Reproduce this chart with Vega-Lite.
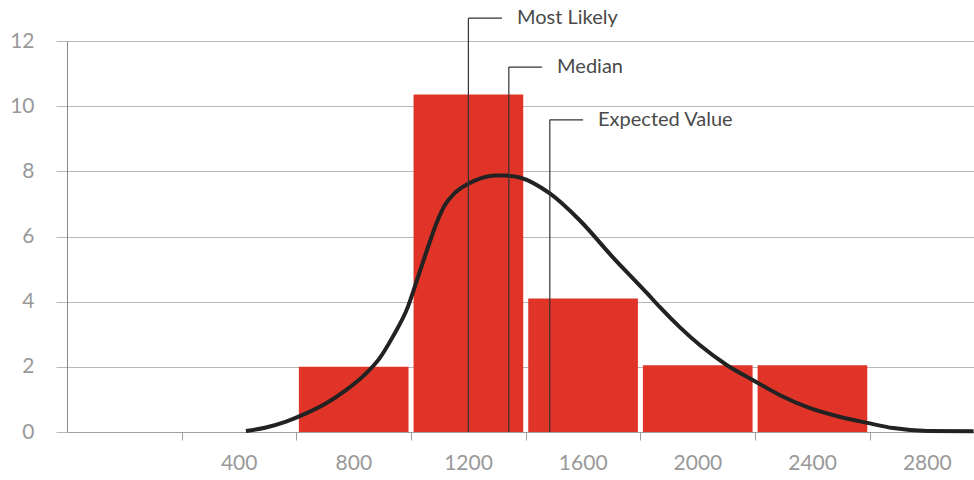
{
  "$schema": "https://vega.github.io/schema/vega-lite/v6.json",
  "autosize": {"type": "fit", "contains": "padding"},
  "width": 974,
  "height": 480,
  "padding": {"left": 9, "top": 2, "right": -8, "bottom": 7},
  "config": {
    "view": {"stroke": null},
    "font": "Lato",
    "axis": {"labelFont": "Lato", "labelColor": "#999999", "labelFontSize": 21, "title": null}
  },
  "datasets": {
    "bins": [
      {"start": 600, "end": 1000, "count": 2.0},
      {"start": 1000, "end": 1400, "count": 10.36},
      {"start": 1400, "end": 1800, "count": 4.1},
      {"start": 1800, "end": 2200, "count": 2.05},
      {"start": 2200, "end": 2600, "count": 2.05}
    ],
    "curve": [
      {"x": 424, "y": 0.03},
      {"x": 494, "y": 0.14},
      {"x": 564, "y": 0.32},
      {"x": 634, "y": 0.57},
      {"x": 704, "y": 0.88},
      {"x": 774, "y": 1.29},
      {"x": 843, "y": 1.8},
      {"x": 890, "y": 2.26},
      {"x": 936, "y": 2.92},
      {"x": 989, "y": 3.84},
      {"x": 1024, "y": 4.75},
      {"x": 1059, "y": 5.67},
      {"x": 1088, "y": 6.39},
      {"x": 1117, "y": 6.95},
      {"x": 1152, "y": 7.33},
      {"x": 1198, "y": 7.61},
      {"x": 1245, "y": 7.79},
      {"x": 1292, "y": 7.87},
      {"x": 1327, "y": 7.87},
      {"x": 1379, "y": 7.81},
      {"x": 1484, "y": 7.32},
      {"x": 1589, "y": 6.49},
      {"x": 1704, "y": 5.36},
      {"x": 1823, "y": 4.26},
      {"x": 1868, "y": 3.83},
      {"x": 1938, "y": 3.21},
      {"x": 2008, "y": 2.66},
      {"x": 2102, "y": 2.05},
      {"x": 2193, "y": 1.59},
      {"x": 2287, "y": 1.13},
      {"x": 2392, "y": 0.73},
      {"x": 2497, "y": 0.46},
      {"x": 2591, "y": 0.28},
      {"x": 2682, "y": 0.12},
      {"x": 2801, "y": 0.03},
      {"x": 2962, "y": 0.02}
    ],
    "notes": [
      {"label": "Most Likely", "x": 1200, "top": 12.7, "legEnd": 1317},
      {"label": "Median", "x": 1341, "top": 11.2, "legEnd": 1457},
      {"label": "Expected Value", "x": 1484, "top": 9.58, "legEnd": 1600}
    ]
  },
  "layer": [
    {
      "data": {"name": "bins"},
      "mark": {"type": "bar", "color": "#e03428", "xOffset": 2.5, "x2Offset": -2.5},
      "encoding": {
        "x": {
          "field": "start", "type": "quantitative",
          "scale": {"domain": [-200, 2967], "nice": false, "zero": false},
          "axis": {
            "values": [200, 600, 1000, 1400, 1800, 2200, 2600],
            "labelExpr": "datum.value + 200",
            "labelOffset": 57,
            "format": "d",
            "grid": false,
            "domainColor": "#a0a0a0",
            "tickColor": "#a0a0a0",
            "tickSize": 8,
            "labelPadding": 12
          }
        },
        "x2": {"field": "end"},
        "y": {
          "field": "count", "type": "quantitative",
          "scale": {"domain": [0, 12], "nice": false},
          "axis": {
            "values": [0, 2, 4, 6, 8, 10, 12],
            "grid": true,
            "gridColor": "#b8b8b8",
            "tickColor": "#b8b8b8",
            "tickSize": 11,
            "domainColor": "#888888",
            "labelPadding": 22
          }
        },
        "y2": {"datum": 0}
      }
    },
    {
      "data": {"name": "curve"},
      "mark": {"type": "line", "color": "#222222", "strokeWidth": 4, "interpolate": "monotone"},
      "encoding": {
        "x": {"field": "x", "type": "quantitative"},
        "y": {"field": "y", "type": "quantitative"}
      }
    },
    {
      "data": {"name": "notes"},
      "mark": {"type": "rule", "color": "#333333", "strokeWidth": 1.2},
      "encoding": {
        "x": {"field": "x", "type": "quantitative"},
        "y": {"field": "top", "type": "quantitative"},
        "y2": {"datum": 0}
      }
    },
    {
      "data": {"name": "notes"},
      "mark": {"type": "rule", "color": "#333333", "strokeWidth": 1.2},
      "encoding": {
        "x": {"field": "x", "type": "quantitative"},
        "x2": {"field": "legEnd"},
        "y": {"field": "top", "type": "quantitative"}
      }
    },
    {
      "data": {"name": "notes"},
      "mark": {"type": "text", "align": "left", "baseline": "middle", "dx": 15, "dy": 0, "fontSize": 20, "color": "#4a4a4a", "font": "Lato"},
      "encoding": {
        "x": {"field": "legEnd", "type": "quantitative"},
        "y": {"field": "top", "type": "quantitative"},
        "text": {"field": "label"}
      }
    }
  ]
}
